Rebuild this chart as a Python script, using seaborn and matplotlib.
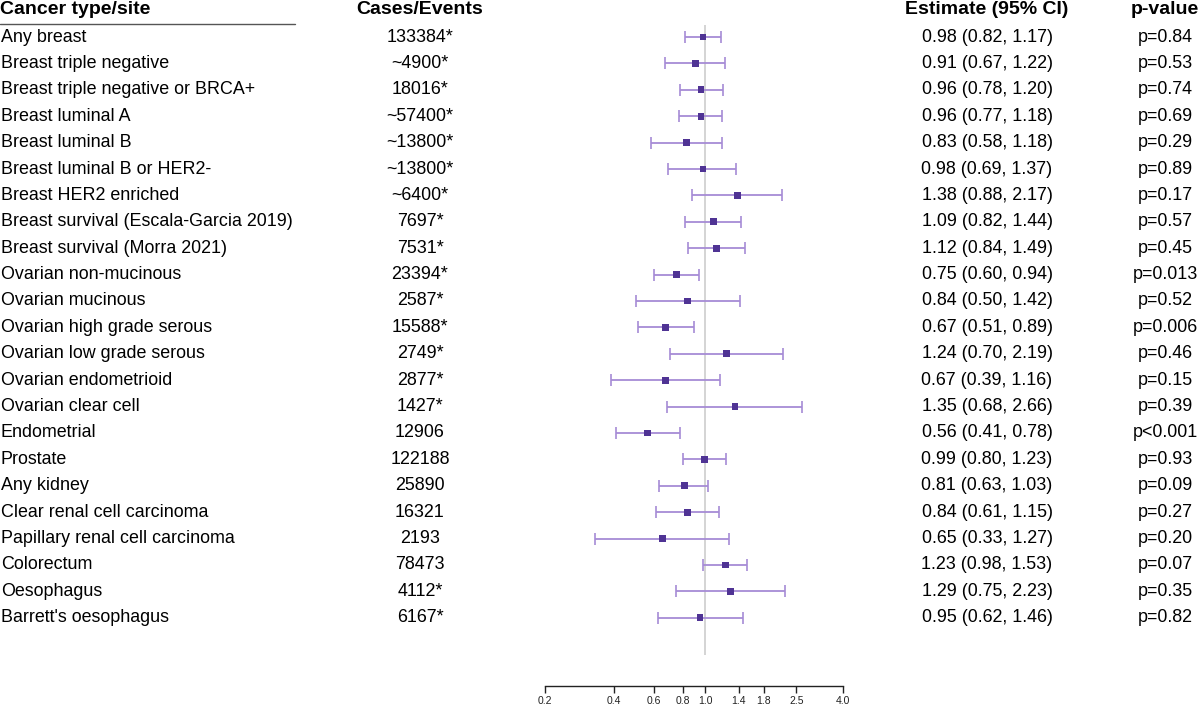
import numpy as np
import pandas as pd
import matplotlib
matplotlib.use("Agg")
import matplotlib.pyplot as plt
import seaborn as sns

# donnees
sites = ["Any breast", "Breast triple negative", "Breast triple negative or BRCA+",
         "Breast luminal A", "Breast luminal B", "Breast luminal B or HER2-",
         "Breast HER2 enriched", "Breast survival (Escala-Garcia 2019)",
         "Breast survival (Morra 2021)", "Ovarian non-mucinous", "Ovarian mucinous",
         "Ovarian high grade serous", "Ovarian low grade serous", "Ovarian endometrioid",
         "Ovarian clear cell", "Endometrial", "Prostate", "Any kidney",
         "Clear renal cell carcinoma", "Papillary renal cell carcinoma", "Colorectum",
         "Oesophagus", "Barrett's oesophagus"]
cases = ["133384*", "~4900*", "18016*", "~57400*", "~13800*", "~13800*", "~6400*",
         "7697*", "7531*", "23394*", "2587*", "15588*", "2749*", "2877*", "1427*",
         "12906", "122188", "25890", "16321", "2193", "78473", "4112*", "6167*"]
estimate = [0.98, 0.91, 0.96, 0.96, 0.83, 0.98, 1.38, 1.09, 1.12, 0.75, 0.84, 0.67,
            1.24, 0.67, 1.35, 0.56, 0.99, 0.81, 0.84, 0.65, 1.23, 1.29, 0.95]
lower = [0.82, 0.67, 0.78, 0.77, 0.58, 0.69, 0.88, 0.82, 0.84, 0.60, 0.50, 0.51,
         0.70, 0.39, 0.68, 0.41, 0.80, 0.63, 0.61, 0.33, 0.98, 0.75, 0.62]
upper = [1.17, 1.22, 1.20, 1.18, 1.18, 1.37, 2.17, 1.44, 1.49, 0.94, 1.42, 0.89,
         2.19, 1.16, 2.66, 0.78, 1.23, 1.03, 1.15, 1.27, 1.53, 2.23, 1.46]
pvals = ["p=0.84", "p=0.53", "p=0.74", "p=0.69", "p=0.29", "p=0.89", "p=0.17",
         "p=0.57", "p=0.45", "p=0.013", "p=0.52", "p=0.006", "p=0.46", "p=0.15",
         "p=0.39", "p<0.001", "p=0.93", "p=0.09", "p=0.27", "p=0.20", "p=0.07",
         "p=0.35", "p=0.82"]
ticks = [0.2, 0.4, 0.6, 0.8, 1.0, 1.4, 1.8, 2.5, 4.0]

df = pd.DataFrame({"site": sites, "cases": cases, "est": estimate,
                   "lo": lower, "hi": upper, "p": pvals})
df["row"] = np.arange(len(df))

sns.set_theme(style="white")
plt.rcParams["font.family"] = ["Liberation Sans", "DejaVu Sans"]
plt.rcParams["text.color"] = "black"

W, H = 1200, 708
y0, dy = 37, 26.4          # centre de la premiere ligne et pas (pixels)
fig = plt.figure(figsize=(W / 100, H / 100), dpi=100)

# axe texte : x en pixels, y en index de ligne
ax_txt = fig.add_axes([0, 0, 1, 1])
ax_txt.set_xlim(0, W)
ax_txt.set_ylim((H - y0) / dy, -y0 / dy)
ax_txt.axis("off")

fs = 12.9
fh = 14.0
yh = (10 - y0) / dy
ax_txt.text(0, yh, "Cancer type/site", fontsize=fh, fontweight="bold", va="center", ha="left")
ax_txt.text(420, yh, "Cases/Events", fontsize=fh, fontweight="bold", va="center", ha="center")
ax_txt.text(987, yh, "Estimate (95% CI)", fontsize=fh, fontweight="bold", va="center", ha="center")
ax_txt.text(1165, yh, "p-value", fontsize=fh, fontweight="bold", va="center", ha="center")
ax_txt.plot([0, 295], [(24 - y0) / dy] * 2, color="#555555", lw=1.0)

for _, r in df.iterrows():
    ax_txt.text(1, r.row, r.site, fontsize=fs, va="center", ha="left")
    ax_txt.text(420, r.row, r.cases, fontsize=fs, va="center", ha="center")
    ax_txt.text(987, r.row, f"{r.est:.2f} ({r.lo:.2f}, {r.hi:.2f})", fontsize=fs,
                va="center", ha="center")
    ax_txt.text(1165, r.row, r.p, fontsize=fs, va="center", ha="center")

# axe forest plot
top_px, bot_px = 25, 686
left_px, right_px = 545, 843
ax = fig.add_axes([left_px / W, (H - bot_px) / H, (right_px - left_px) / W, (bot_px - top_px) / H])
ax.set_facecolor("none")
ax.set_xscale("log")
ax.set_xlim(0.2, 4.0)
ax.set_ylim((bot_px - y0) / dy, (top_px - y0) / dy)

ax.vlines(1.0, (top_px - y0) / dy, (655 - y0) / dy, color="#d4d4d4", lw=1.4, zorder=1)
ax.errorbar(df["est"], df["row"], xerr=[df["est"] - df["lo"], df["hi"] - df["est"]],
            fmt="none", ecolor="#a68bd6", elinewidth=1.3, capsize=4.0, capthick=1.2, zorder=2)
sns.scatterplot(data=df, x="est", y="row", marker="s", s=24, color="#4f3394",
                edgecolor="none", ax=ax, zorder=3, legend=False)

for side in ["top", "right", "left"]:
    ax.spines[side].set_visible(False)
ax.spines["bottom"].set_color("#222222")
ax.spines["bottom"].set_linewidth(1.0)
ax.set_xticks(ticks)
ax.set_xticklabels([f"{t:.1f}" for t in ticks])
ax.xaxis.set_minor_locator(matplotlib.ticker.NullLocator())
ax.tick_params(axis="x", bottom=True, length=5, width=1.0, color="#222222",
               labelsize=7.5, labelcolor="#222222", pad=2)
ax.set_yticks([])
ax.set_xlabel("")
ax.set_ylabel("")

fig.savefig("out.png", dpi=100)
